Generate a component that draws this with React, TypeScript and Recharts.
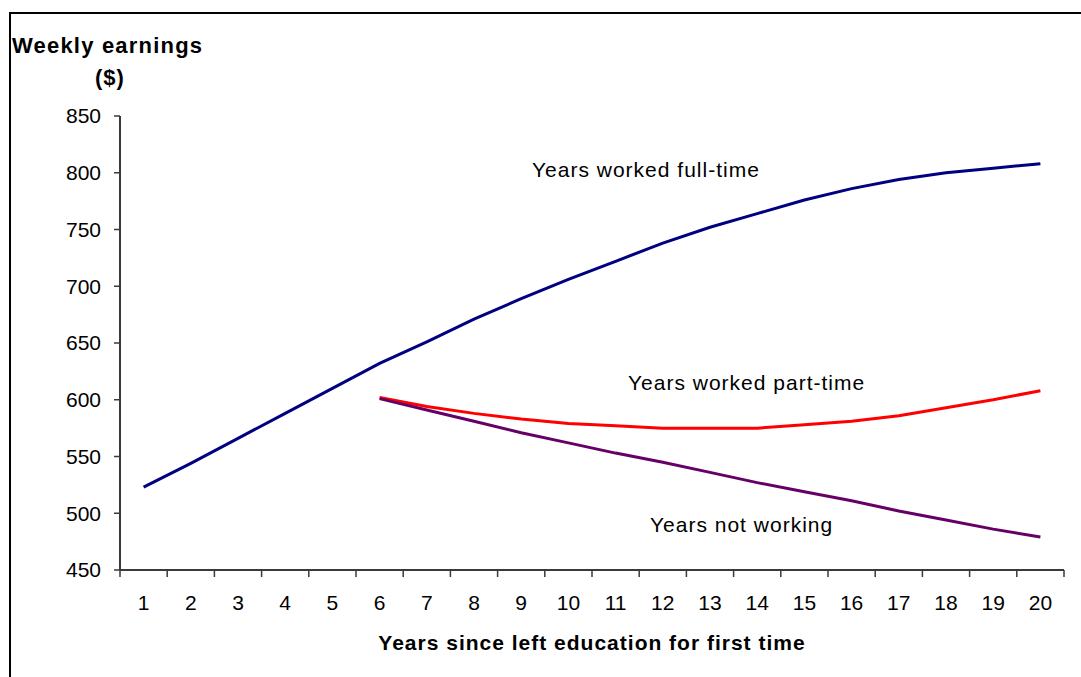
import React from "react";
import { LineChart, Line, XAxis, YAxis } from "recharts";

// Years since left education for first time
const years = ["1", "2", "3", "4", "5", "6", "7", "8", "9", "10", "11", "12", "13", "14", "15", "16", "17", "18", "19", "20"];

// Weekly earnings ($)
const fullTime = [523, 544, 566, 588, 610, 632, 651, 671, 689, 706, 722, 738, 752, 764, 776, 786, 794, 800, 804, 808];
const partTime = [null, null, null, null, null, 602, 594, 588, 583, 579, 577, 575, 575, 575, 578, 581, 586, 593, 600, 608];
const notWorking = [null, null, null, null, null, 601, 591, 581, 571, 562, 553, 545, 536, 527, 519, 511, 502, 494, 486, 479];

const yTicks = [450, 500, 550, 600, 650, 700, 750, 800, 850];

const data = years.map((year, i) => ({
  year,
  fullTime: fullTime[i],
  partTime: partTime[i],
  notWorking: notWorking[i],
}));

const WIDTH = 1081;
const HEIGHT = 677;
const MARGIN = { top: 116, right: 17, bottom: 67, left: 0 };
const Y_AXIS_W = 120;
const X_AXIS_H = 40;
const PLOT_LEFT = MARGIN.left + Y_AXIS_W;
const PLOT_W = WIDTH - PLOT_LEFT - MARGIN.right;
const PLOT_BOTTOM = HEIGHT - MARGIN.bottom - X_AXIS_H;
const FONT = "'Liberation Sans', Arial, sans-serif";
const AXIS_COLOR = "#3a3a3a";

// category ticks: label in the middle of the band, tick mark on band edges
function XTick(props: any) {
  const { x, payload, index } = props;
  const bw = PLOT_W / years.length;
  const left = x - bw / 2;
  const right = x + bw / 2;
  return (
    <g>
      <line x1={left} x2={left} y1={PLOT_BOTTOM} y2={PLOT_BOTTOM + 7} stroke={AXIS_COLOR} strokeWidth={1.5} />
      {index === years.length - 1 && (
        <line x1={right} x2={right} y1={PLOT_BOTTOM} y2={PLOT_BOTTOM + 7} stroke={AXIS_COLOR} strokeWidth={1.5} />
      )}
      <text x={x} y={PLOT_BOTTOM + 40} textAnchor="middle" fontSize={21} fontFamily={FONT} fill="#000">
        {payload.value}
      </text>
    </g>
  );
}

const noteStyle: React.CSSProperties = {
  position: "absolute",
  fontFamily: FONT,
  fontSize: 21,
  letterSpacing: 1,
  color: "#000",
  whiteSpace: "nowrap",
  lineHeight: "24px",
};

export default function App() {
  return (
    <div
      style={{
        position: "absolute",
        left: 0,
        top: 0,
        width: WIDTH,
        height: HEIGHT,
        overflow: "hidden",
        background: "#fff",
        fontFamily: FONT,
      }}
    >
      {/* outer frame, runs off the right and bottom edges */}
      <div
        style={{
          position: "absolute",
          left: 9,
          top: 12,
          width: WIDTH + 20,
          height: HEIGHT + 20,
          borderLeft: "2px solid #000",
          borderTop: "2px solid #000",
        }}
      />

      <div style={{ position: "absolute", left: 0, top: 0 }}>
        <LineChart width={WIDTH} height={HEIGHT} data={data} margin={MARGIN}>
          <XAxis
            dataKey="year"
            scale="band"
            height={X_AXIS_H}
            tick={<XTick />}
            tickLine={false}
            interval={0}
            axisLine={{ stroke: AXIS_COLOR, strokeWidth: 2 }}
          />
          <XAxis
            xAxisId="top"
            dataKey="year"
            scale="band"
            orientation="top"
            height={0}
            tick={false}
            tickLine={false}
            axisLine={{ stroke: "#9a9a9a", strokeWidth: 1 }}
          />
          <YAxis
            domain={[450, 850]}
            ticks={yTicks}
            width={Y_AXIS_W}
            tickSize={6}
            tickMargin={13}
            tick={{ fontSize: 21, fill: "#000", fontFamily: FONT }}
            tickLine={{ stroke: AXIS_COLOR, strokeWidth: 1.5 }}
            axisLine={{ stroke: AXIS_COLOR, strokeWidth: 2 }}
            allowDataOverflow
          />
          <YAxis
            yAxisId="right"
            orientation="right"
            domain={[450, 850]}
            width={0}
            tick={false}
            tickLine={false}
            axisLine={{ stroke: "#9a9a9a", strokeWidth: 1 }}
          />
          <Line
            type="linear"
            dataKey="fullTime"
            stroke="#000080"
            strokeWidth={3}
            dot={false}
            isAnimationActive={false}
          />
          <Line
            type="linear"
            dataKey="partTime"
            stroke="#ff0000"
            strokeWidth={3}
            dot={false}
            isAnimationActive={false}
          />
          <Line
            type="linear"
            dataKey="notWorking"
            stroke="#660066"
            strokeWidth={3}
            dot={false}
            isAnimationActive={false}
          />
        </LineChart>
      </div>

      {/* titles and series notes */}
      <div style={{ ...noteStyle, left: 12, top: 34, fontWeight: "bold", fontSize: 22, letterSpacing: 1.2 }}>
        Weekly earnings
      </div>
      <div style={{ ...noteStyle, left: 95, top: 66, fontWeight: "bold", fontSize: 22 }}>($)</div>
      <div style={{ ...noteStyle, left: 532, top: 158 }}>Years worked full-time</div>
      <div style={{ ...noteStyle, left: 628, top: 371 }}>Years worked part-time</div>
      <div style={{ ...noteStyle, left: 650, top: 513 }}>Years not working</div>
      <div
        style={{
          ...noteStyle,
          left: PLOT_LEFT,
          width: PLOT_W,
          top: 631,
          textAlign: "center",
          fontWeight: "bold",
        }}
      >
        Years since left education for first time
      </div>
    </div>
  );
}
